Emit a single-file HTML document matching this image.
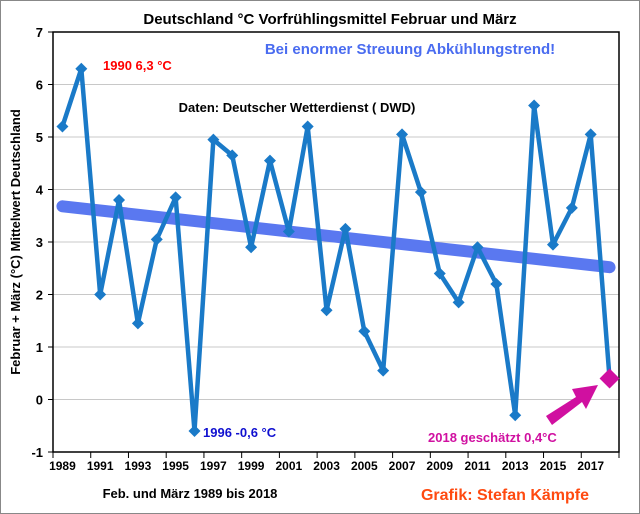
<!DOCTYPE html>
<html><head><meta charset="utf-8"><style>
body{margin:0;background:#fff}
svg{display:block;font-family:"Liberation Sans",sans-serif}
</style></head><body>
<svg id="c" width="640" height="514" viewBox="0 0 640 514">
<rect x="0.5" y="0.5" width="639" height="513" fill="#fff" stroke="#888"/>
<text x="330" y="24" text-anchor="middle" font-size="15" font-weight="bold">Deutschland °C Vorfrühlingsmittel Februar und März</text>
<g id="grid"></g>
<g id="axes"></g>
<line id="trend" stroke="#5a78f0" stroke-width="12" stroke-linecap="round"/>
<polyline id="series" fill="none" stroke="#1a7ac8" stroke-width="4.5" stroke-linejoin="round"/>
<g id="pts"></g>
<text x="103" y="70" font-size="13" font-weight="bold" fill="#ff0000">1990 6,3 °C</text>
<text x="203" y="437" font-size="13" font-weight="bold" fill="#1010d0">1996 -0,6 °C</text>
<text x="410" y="54" text-anchor="middle" font-size="15" font-weight="bold" fill="#4a6cf0">Bei enormer Streuung Abkühlungstrend!</text>
<text x="297" y="112" text-anchor="middle" font-size="13" font-weight="bold">Daten: Deutscher Wetterdienst ( DWD)</text>
<text x="428" y="442" font-size="13" font-weight="bold" fill="#d010a0">2018 geschätzt 0,4°C</text>
<polygon points="546,416 576,397 572,389 598,385 586,409 582,402 552,425" fill="#d010a0"/>
<text transform="translate(20,242) rotate(-90)" text-anchor="middle" font-size="13" font-weight="bold">Februar + März (°C) Mittelwert Deutschland</text>
<text x="190" y="498" text-anchor="middle" font-size="13" font-weight="bold">Feb. und März 1989 bis 2018</text>
<text x="505" y="500" text-anchor="middle" font-size="16" font-weight="bold" fill="#ff4a10">Grafik: Stefan Kämpfe</text>
</svg>
<script>
const years=[1989,1990,1991,1992,1993,1994,1995,1996,1997,1998,1999,2000,2001,2002,2003,2004,2005,2006,2007,2008,2009,2010,2011,2012,2013,2014,2015,2016,2017,2018];
const temps=[5.2,6.3,2.0,3.8,1.45,3.05,3.85,-0.6,4.95,4.65,2.9,4.55,3.2,5.2,1.7,3.25,1.3,0.55,5.05,3.95,2.4,1.85,2.9,2.2,-0.3,5.6,2.95,3.65,5.05,0.4];
const yTicks=[-1,0,1,2,3,4,5,6,7];
const trendStart=3.68, trendEnd=2.52;
const NS="http://www.w3.org/2000/svg";
const L=53,R=619,T=32,B=452,ymin=-1,ymax=7;
const n=years.length,bw=(R-L)/n;
const xs=i=>L+(i+0.5)*bw;
const ys=v=>B-(v-ymin)/(ymax-ymin)*(B-T);
function mk(tag,attrs,parent){const e=document.createElementNS(NS,tag);for(const k in attrs)e.setAttribute(k,attrs[k]);parent.appendChild(e);return e;}
const grid=document.getElementById('grid'),axes=document.getElementById('axes');
yTicks.forEach(t=>{
 const y=ys(t);
 if(t>ymin&&t<ymax){const g=mk('line',{x1:L,x2:R,y1:y,y2:y,stroke:'#c8c8c8','stroke-width':1},grid);
 
 }
 const tk=mk('line',{x1:L-5,x2:L,y1:y,y2:y,stroke:'#000'},axes);
 
 
 const tx=mk('text',{x:L-10,y:y+5,'text-anchor':'end','font-size':13,'font-weight':'bold'},axes);
 tx.textContent=t;
 
 
});
const fr=mk('rect',{x:L,y:T,width:R-L,height:B-T,fill:'none',stroke:'#000','stroke-width':1.5},axes);


for(let i=0;i<=n;i+=2){const x=L+i*bw;
 const tk=mk('line',{x1:x,x2:x,y1:B,y2:B+6,stroke:'#000'},axes);
 
 }
years.forEach((yr,i)=>{if(i%2===0){
 const tx=mk('text',{x:xs(i),y:B+18,'text-anchor':'middle','font-size':12,'font-weight':'bold'},axes);
 tx.textContent=yr;
 
 }});
const tr=document.getElementById('trend');
tr.setAttribute('x1',xs(0));tr.setAttribute('y1',ys(trendStart));
tr.setAttribute('x2',xs(n-1));tr.setAttribute('y2',ys(trendEnd));
document.getElementById('series').setAttribute('points',temps.map((v,i)=>xs(i)+','+ys(v)).join(' '));
const pts=document.getElementById('pts');
temps.forEach((v,i)=>{const x=xs(i),y=ys(v),last=i===n-1,s=last?10:6;
 const p=mk('path',{d:`M${x} ${y-s}L${x+s} ${y}L${x} ${y+s}L${x-s} ${y}Z`,fill:last?'#d010a0':'#1a7ac8'},pts);
 
 });
</script>
</body></html>
